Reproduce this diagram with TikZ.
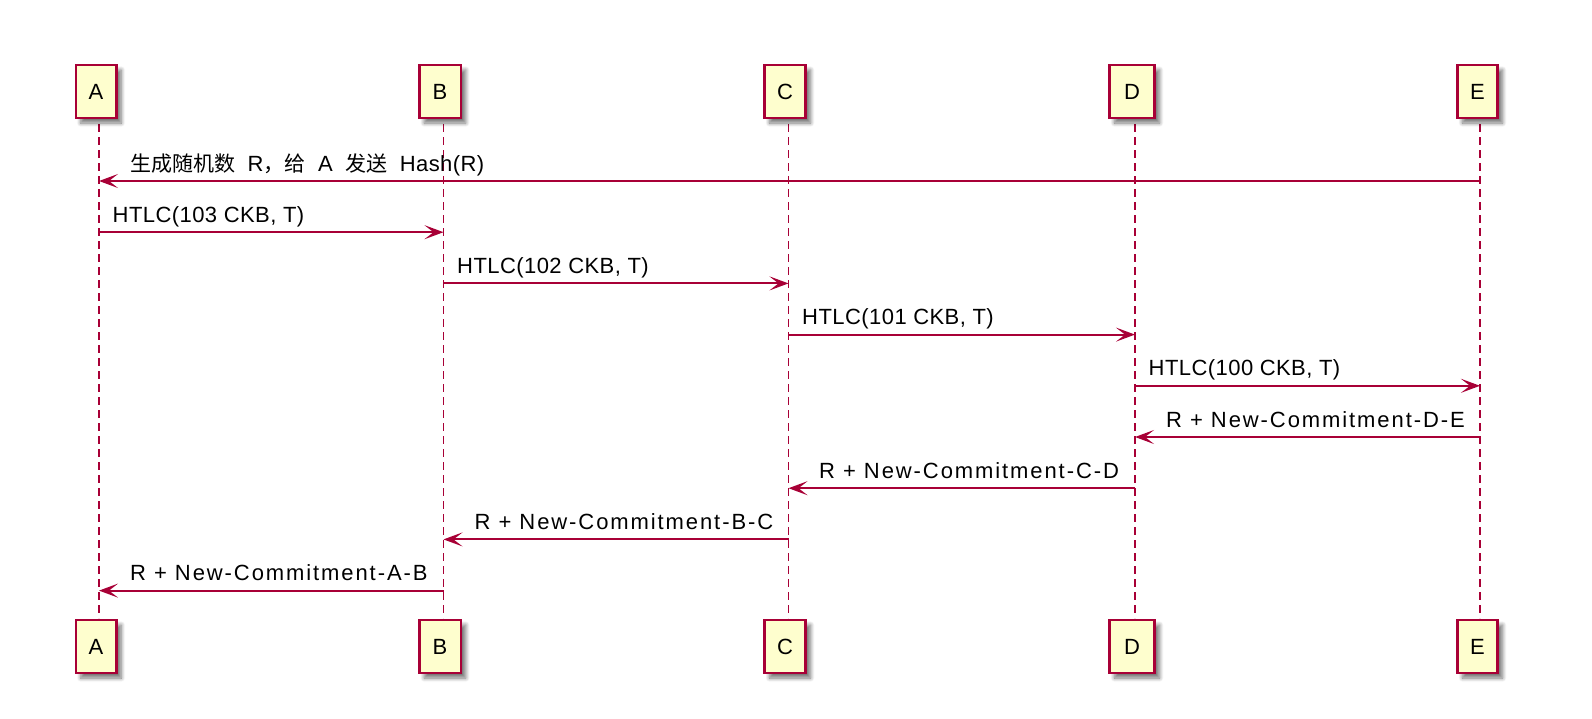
\documentclass[tikz,border=0pt]{standalone}
\usepackage{fontspec}
\setmainfont{Liberation Sans}
\newfontfamily\cjk{Noto Sans CJK SC}
\newfontfamily\htlcfont{Liberation Sans}[LetterSpace=2]
\newfontfamily\rfont{Liberation Sans}[LetterSpace=8.7]
\newcommand{\cjkc}{\cjk\fontsize{21}{24}\selectfont}
\usetikzlibrary{arrows.meta,shadows.blur}
\definecolor{plred}{HTML}{A80036}
\definecolor{plfill}{HTML}{FEFECE}
\tikzset{
  part/.style={draw=plred, line width=2.5pt, fill=plfill, minimum width=40.5pt, minimum height=53pt, inner sep=0pt,
    font=\fontsize{22}{26}\selectfont,
    blur shadow={shadow xshift=5pt, shadow yshift=-5pt, shadow blur steps=8, shadow blur radius=4pt, shadow opacity=55}},
  life/.style={draw=plred, line width=1.6pt, dash pattern=on 8pt off 5pt},
  msg/.style={draw=plred, line width=2pt, -{Stealth[length=19pt, width=14pt, inset=9pt]}},
  lbl/.style={anchor=base west, inner sep=0pt, font=\fontsize{22}{26}\selectfont},
}
\begin{document}
\begin{tikzpicture}[x=1pt,y=-1pt]
\useasboundingbox (0,0) rectangle (1592,718);
% lifelines
\foreach \n/\x in {A/99,B/443.5,C/788.5,D/1135,E/1480}{
  \coordinate (\n top) at (\x,124);
  \coordinate (\n bot) at (\x,618);
}
\foreach \n in {A,B,C,D,E}{
  \draw[life] (\n top) -- (\n bot);
}
\foreach \n/\x/\w in {A/96/40.5,B/440/41.5,C/785/41,D/1132/45,E/1477.5/40}{
  \node[part, minimum width=\w pt] (\n1) at (\x,91.5) {\n};
  \node[part, minimum width=\w pt] (\n2) at (\x,646.5) {\n};
}
% message anchor points
\foreach \i/\y in {1/181,2/232.2,3/283.4,4/334.6,5/385.8,6/437,7/488.2,8/539.4,9/590.6}{
  \foreach \n/\x in {A/99,B/443.5,C/788.5,D/1135,E/1480}{
    \coordinate (\n m\i) at (\x,\y);
  }
}
\draw[msg] (Em1) -- (Am1);
\node[lbl] (t1) at (130,171) {\htlcfont\spaceskip=12.5pt\relax{\cjkc 生成随机数} R{\cjkc ，给} A {\cjkc 发送} Hash(R)};
\draw[msg] (Am2) -- (Bm2);
\node[lbl] (t2) at (112.5,222.2) {\htlcfont HTLC(103 CKB, T)};
\draw[msg] (Bm3) -- (Cm3);
\node[lbl] (t3) at (457,273.4) {\htlcfont HTLC(102 CKB, T)};
\draw[msg] (Cm4) -- (Dm4);
\node[lbl] (t4) at (802,324.6) {\htlcfont HTLC(101 CKB, T)};
\draw[msg] (Dm5) -- (Em5);
\node[lbl] (t5) at (1148.5,375.8) {\htlcfont HTLC(100 CKB, T)};
\draw[msg] (Em6) -- (Dm6);
\node[lbl] (t6) at (1166,427) {\rfont R + New-Commitment-D-E};
\draw[msg] (Dm7) -- (Cm7);
\node[lbl] (t7) at (819,478.2) {\rfont R + New-Commitment-C-D};
\draw[msg] (Cm8) -- (Bm8);
\node[lbl] (t8) at (474.5,529.4) {\rfont R + New-Commitment-B-C};
\draw[msg] (Bm9) -- (Am9);
\node[lbl] (t9) at (130,580.6) {\rfont R + New-Commitment-A-B};
\end{tikzpicture}
\end{document}
